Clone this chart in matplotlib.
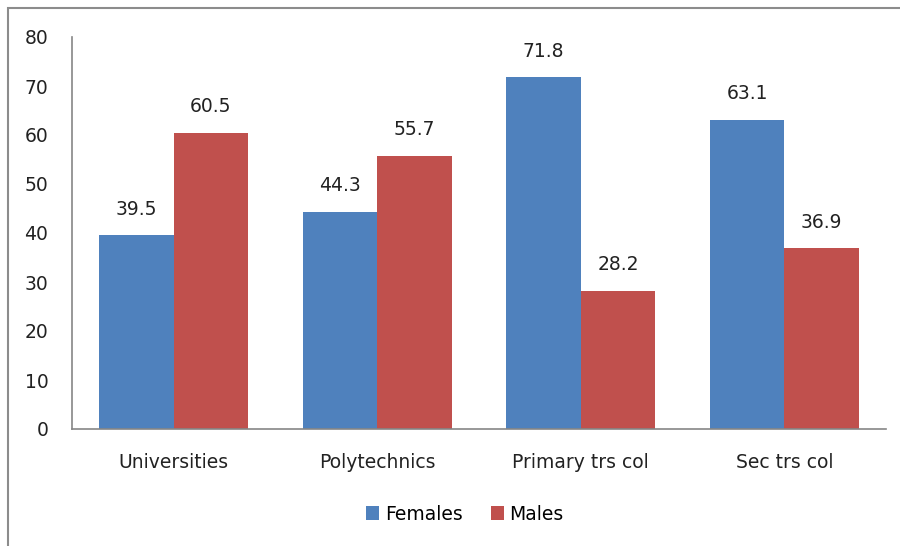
import matplotlib
matplotlib.use("Agg")
import matplotlib.pyplot as plt
from matplotlib.patches import Rectangle
import numpy as np

categories = ["Universities", "Polytechnics", "Primary trs col", "Sec trs col"]
females = [39.5, 44.3, 71.8, 63.1]
males = [60.5, 55.7, 28.2, 36.9]
yticks = [0, 10, 20, 30, 40, 50, 60, 70, 80]

plt.rcParams['font.family'] = ['DejaVu Sans']

W, H = 900, 546
fig = plt.figure(figsize=(9, 5.46), dpi=100)
fig.patch.set_facecolor('white')

# outer chart border
fig.patches.append(Rectangle((8 / W, -0.1), 1.2, (H - 8) / H + 0.1, transform=fig.transFigure,
                             fill=False, edgecolor='#8c8c8c', linewidth=1.5))

ax = fig.add_axes([72 / W, 1 - 429 / H, (886 - 72) / W, (429 - 37) / H])
x = np.arange(len(categories))
bw = 0.365
blue = '#4F81BD'
red = '#C0504D'
b1 = ax.bar(x - bw / 2, females, bw, color=blue, label='Females')
b2 = ax.bar(x + bw / 2, males, bw, color=red, label='Males')

fs = 13.5
for bars, vals in ((b1, females), (b2, males)):
    for b, v in zip(bars, vals):
        ax.annotate(f"{v:.1f}", (b.get_x() + b.get_width() / 2, v), xytext=(0, 12),
                    textcoords='offset points', ha='center', va='bottom', fontsize=fs, color='#222222')

ax.set_ylim(0, 80)
ax.set_xlim(-0.5, 3.5)
ax.set_yticks(yticks)
ax.set_xticks(x)
ax.set_xticklabels(categories)
ax.tick_params(axis='both', length=0, labelsize=fs, colors='#222222')
ax.tick_params(axis='y', pad=17)
ax.tick_params(axis='x', pad=17)
for s in ('top', 'right'):
    ax.spines[s].set_visible(False)
for s in ('left', 'bottom'):
    ax.spines[s].set_color('#868686')
    ax.spines[s].set_linewidth(1.2)

leg = fig.legend(handles=[b1, b2], labels=['Females', 'Males'], loc='center',
                 bbox_to_anchor=(465 / W, 1 - 514 / H), ncol=2, frameon=False, fontsize=fs,
                 handlelength=0.7, handleheight=0.7, handletextpad=0.3, columnspacing=1.5)

fig.savefig('out.png', dpi=100, facecolor='white')
